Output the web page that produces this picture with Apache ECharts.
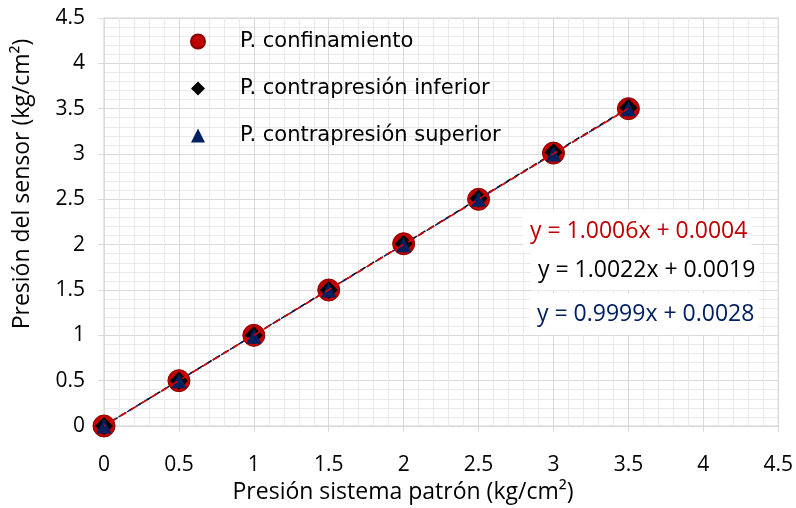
<!DOCTYPE html>
<html>
<head>
<meta charset="utf-8">
<script src="https://cdn.jsdelivr.net/npm/echarts@6/dist/echarts.min.js"></script>
<style>html,body{margin:0;padding:0;background:#fff}#c{width:796px;height:508px}</style>
</head>
<body>
<div id="c"></div>
<script>
// Data
var xPatron = [0, 0.5, 1, 1.5, 2, 2.5, 3, 3.5];
var yConfinamiento = [0, 0.50, 1.00, 1.50, 2.01, 2.50, 3.01, 3.50];
var yInferior = [0, 0.50, 1.00, 1.50, 2.01, 2.51, 3.02, 3.51];
var ySuperior = [0, 0.50, 0.99, 1.50, 2.00, 2.50, 3.00, 3.50];
var seriesNames = ['P. confinamiento', 'P. contrapresión inferior', 'P. contrapresión superior'];
var trendSlope = [1.0006, 1.0022, 0.9999];
var trendIntercept = [0.0004, 0.0019, 0.0028];
var equations = ['y = 1.0006x + 0.0004', 'y = 1.0022x + 0.0019', 'y = 0.9999x + 0.0028'];
var axisTicks = [0, 0.5, 1, 1.5, 2, 2.5, 3, 3.5, 4, 4.5];
var xTitle = 'Presión sistema patrón (kg/cm²)';
var yTitle = 'Presión del sensor (kg/cm²)';

function pairs(xs, ys) { return xs.map(function (x, i) { return [x, ys[i]]; }); }
function trend(k) {
  var x0 = xPatron[0], x1 = xPatron[xPatron.length - 1];
  return [[x0, trendSlope[k] * x0 + trendIntercept[k]], [x1, trendSlope[k] * x1 + trendIntercept[k]]];
}

var chart = echarts.init(document.getElementById('c'), null, { renderer: 'canvas' });
var gridCol = '#d9d9d9';
var minorCol = '#e9e9e9';
var fontNum = '"Open Sans", "Noto Sans", sans-serif';
var fontTxt = '"DejaVu Sans", Verdana, sans-serif';

function axis(isY) {
  return {
    type: 'value', min: 0, max: 4.5, interval: 0.5,
    axisLine: { show: true, lineStyle: { color: gridCol, width: 1 } },
    axisTick: { show: true, length: 6, lineStyle: { color: gridCol } },
    axisLabel: { fontFamily: fontNum, fontSize: 21, color: '#000', margin: isY ? 19 : 29,
      formatter: function (v) { return axisTicks.indexOf(v) >= 0 ? String(v) : ''; } },
    splitLine: { show: true, lineStyle: { color: gridCol, width: 1 } },
    minorTick: { show: false, splitNumber: 5 },
    minorSplitLine: { show: true, lineStyle: { color: minorCol, width: 1 } }
  };
}

var option = {
  animation: false,
  backgroundColor: '#fff',
  grid: { left: 104, right: 17, top: 18, bottom: 82, containLabel: false, show: true, borderColor: '#d0d0d0', borderWidth: 1, backgroundColor: 'transparent' },
  xAxis: axis(false),
  yAxis: axis(true),
  legend: {
    orient: 'vertical', left: 185, top: 26, itemGap: 26, itemWidth: 14, itemHeight: 14,
    data: seriesNames,
    textStyle: { fontFamily: fontTxt, fontSize: 21, color: '#000', lineHeight: 20, padding: [0, 0, 0, 30] }
  },
  series: [
    { name: 'trend-inf', type: 'line', data: trend(1), symbol: 'none', z: 3, silent: true,
      lineStyle: { color: '#000', width: 1.5, type: [6, 4] } },
    { name: 'trend-sup', type: 'line', data: trend(2), symbol: 'none', z: 3, silent: true,
      lineStyle: { color: '#002060', width: 1.5, type: [6, 4], dashOffset: 3 } },
    { name: seriesNames[0], type: 'scatter', data: pairs(xPatron, yConfinamiento), symbol: 'circle', symbolSize: 22, z: 4,
      itemStyle: { color: '#c00000', borderColor: '#8a0000', borderWidth: 1, opacity: 1 } },
    { name: seriesNames[1], type: 'scatter', data: pairs(xPatron, yInferior), symbol: 'diamond', symbolSize: 18, z: 5,
      itemStyle: { color: '#000', opacity: 1 } },
    { name: seriesNames[2], type: 'scatter', data: pairs(xPatron, ySuperior), symbol: 'triangle', symbolSize: 15, z: 6,
      itemStyle: { color: '#002060', opacity: 1 } },
    { name: 'trend-conf', type: 'line', data: trend(0), symbol: 'none', z: 7, silent: true,
      lineStyle: { color: '#e00000', width: 1.5, type: [7, 5], dashOffset: 5 } }
  ],
  graphic: [
    { type: 'text', x: 403, y: 492, z: 100, style: { text: xTitle, fill: '#000', font: '23px ' + fontNum, align: 'center', verticalAlign: 'middle' } },
    { type: 'text', x: 22, y: 184, rotation: Math.PI / 2, z: 100, style: { text: yTitle, fill: '#000', font: '23px ' + fontNum, align: 'center', verticalAlign: 'middle' } },
    { type: 'text', x: 523, y: 231, z: 100, style: { text: equations[0], fill: '#c00000', font: '23px ' + fontNum,
      verticalAlign: 'middle', backgroundColor: '#fff', padding: [9, 4, 9, 7] } },
    { type: 'text', x: 531, y: 270, z: 100, style: { text: equations[1], fill: '#000', font: '23px ' + fontNum,
      verticalAlign: 'middle', backgroundColor: '#fff', padding: [9, 4, 9, 7] } },
    { type: 'text', x: 530, y: 314, z: 100, style: { text: equations[2], fill: '#002060', font: '23px ' + fontNum,
      verticalAlign: 'middle', backgroundColor: '#fff', padding: [9, 4, 9, 7] } }
  ]
};
chart.setOption(option);
</script>
</body>
</html>
